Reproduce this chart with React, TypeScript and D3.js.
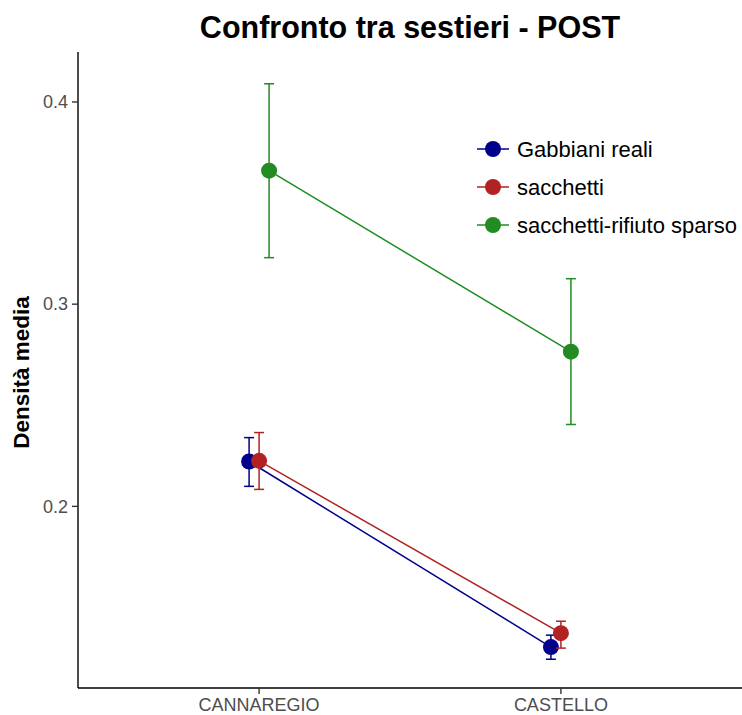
import React from "react";
import * as d3 from "d3";

const sestieri = ["CANNAREGIO", "CASTELLO"];
const seriesNames = ["Gabbiani reali", "sacchetti", "sacchetti-rifiuto sparso"];
const seriesColors = ["#00008B", "#B22222", "#228B22"];
const meanGabbiani = [0.2222, 0.1304];
const lowGabbiani = [0.2099, 0.1244];
const highGabbiani = [0.2340, 0.1363];
const meanSacchetti = [0.2225, 0.1373];
const lowSacchetti = [0.2084, 0.1299];
const highSacchetti = [0.2365, 0.1432];
const meanSparso = [0.3660, 0.2765];
const lowSparso = [0.3230, 0.2405];
const highSparso = [0.4090, 0.3126];
const yTicks = [0.2, 0.3, 0.4];

const W = 742;
const H = 715;
const margin = { left: 78, right: 0, top: 55, bottom: 688 };

type Series = { name: string; color: string; mean: number[]; low: number[]; high: number[] };

const series: Series[] = [
  { name: seriesNames[0], color: seriesColors[0], mean: meanGabbiani, low: lowGabbiani, high: highGabbiani },
  { name: seriesNames[1], color: seriesColors[1], mean: meanSacchetti, low: lowSacchetti, high: highSacchetti },
  { name: seriesNames[2], color: seriesColors[2], mean: meanSparso, low: lowSparso, high: highSparso },
];

export default function App() {
  const allVals = series.flatMap((s) => [...s.low, ...s.high]);
  const lo = d3.min(allVals)!;
  const hi = d3.max(allVals)!;
  const pad = (hi - lo) * 0.05;

  const y = d3.scaleLinear().domain([lo - pad, hi + pad]).range([margin.bottom, margin.top]);
  // discrete axis with 0.6 units of padding on each side
  const x = d3
    .scalePoint<string>()
    .domain(sestieri)
    .range([margin.left, W - margin.right])
    .padding(0.6);
  // dodge offset per series
  const dodge = d3.scaleLinear().domain([0, series.length - 1]).range([-10, 10]);

  const line = d3
    .line<[number, number]>()
    .x((d) => d[0])
    .y((d) => d[1]);

  const font = "'Liberation Sans', Arial, sans-serif";

  return (
    <svg
      width={W}
      height={H}
      style={{ position: "absolute", left: 0, top: 0, background: "#fff" }}
      fontFamily={font}
    >
      <text x={410} y={38} textAnchor="middle" fontSize={30.5} fontWeight="bold" fill="#000">
        Confronto tra sestieri - POST
      </text>

      {/* axes */}
      <line x1={margin.left} x2={margin.left} y1={margin.top - 3} y2={margin.bottom} stroke="#000" strokeWidth={1.4} />
      <line x1={margin.left} x2={W} y1={margin.bottom} y2={margin.bottom} stroke="#000" strokeWidth={1.4} />

      {yTicks.map((t) => (
        <g key={t}>
          <line x1={margin.left - 6} x2={margin.left} y1={y(t)} y2={y(t)} stroke="#333" strokeWidth={1.4} />
          <text x={margin.left - 10} y={y(t)} dy="0.35em" textAnchor="end" fontSize={18} fill="#4D4D4D">
            {t.toFixed(1)}
          </text>
        </g>
      ))}

      {sestieri.map((c) => (
        <g key={c}>
          <line x1={x(c)} x2={x(c)} y1={margin.bottom} y2={margin.bottom + 6} stroke="#333" strokeWidth={1.4} />
          <text x={x(c)} y={711} textAnchor="middle" fontSize={18} fill="#4D4D4D">
            {c}
          </text>
        </g>
      ))}

      <text
        transform={`translate(29,${(margin.top + margin.bottom) / 2 + 1}) rotate(-90)`}
        textAnchor="middle"
        fontSize={22.5}
        fontWeight="bold"
        fill="#000"
      >
        Densità media
      </text>

      {series.map((s, i) => {
        const pts: [number, number][] = sestieri.map((c, j) => [x(c)! + dodge(i), y(s.mean[j])]);
        return (
          <g key={s.name}>
            <path d={line(pts)!} fill="none" stroke={s.color} strokeWidth={1.5} />
            {sestieri.map((c, j) => {
              const cx = x(c)! + dodge(i);
              return (
                <g key={c}>
                  <line x1={cx} x2={cx} y1={y(s.low[j])} y2={y(s.high[j])} stroke={s.color} strokeWidth={1.5} />
                  <line x1={cx - 5} x2={cx + 5} y1={y(s.low[j])} y2={y(s.low[j])} stroke={s.color} strokeWidth={1.5} />
                  <line x1={cx - 5} x2={cx + 5} y1={y(s.high[j])} y2={y(s.high[j])} stroke={s.color} strokeWidth={1.5} />
                  <circle cx={cx} cy={y(s.mean[j])} r={8} fill={s.color} />
                </g>
              );
            })}
          </g>
        );
      })}

      {/* legend */}
      {series.map((s, i) => {
        const ly = 149 + i * 38;
        return (
          <g key={s.name}>
            <line x1={477} x2={509} y1={ly} y2={ly} stroke={s.color} strokeWidth={1.5} />
            <circle cx={493} cy={ly} r={8} fill={s.color} />
            <text x={517} y={ly} dy="0.35em" fontSize={22} fill="#000">
              {s.name}
            </text>
          </g>
        );
      })}
    </svg>
  );
}
